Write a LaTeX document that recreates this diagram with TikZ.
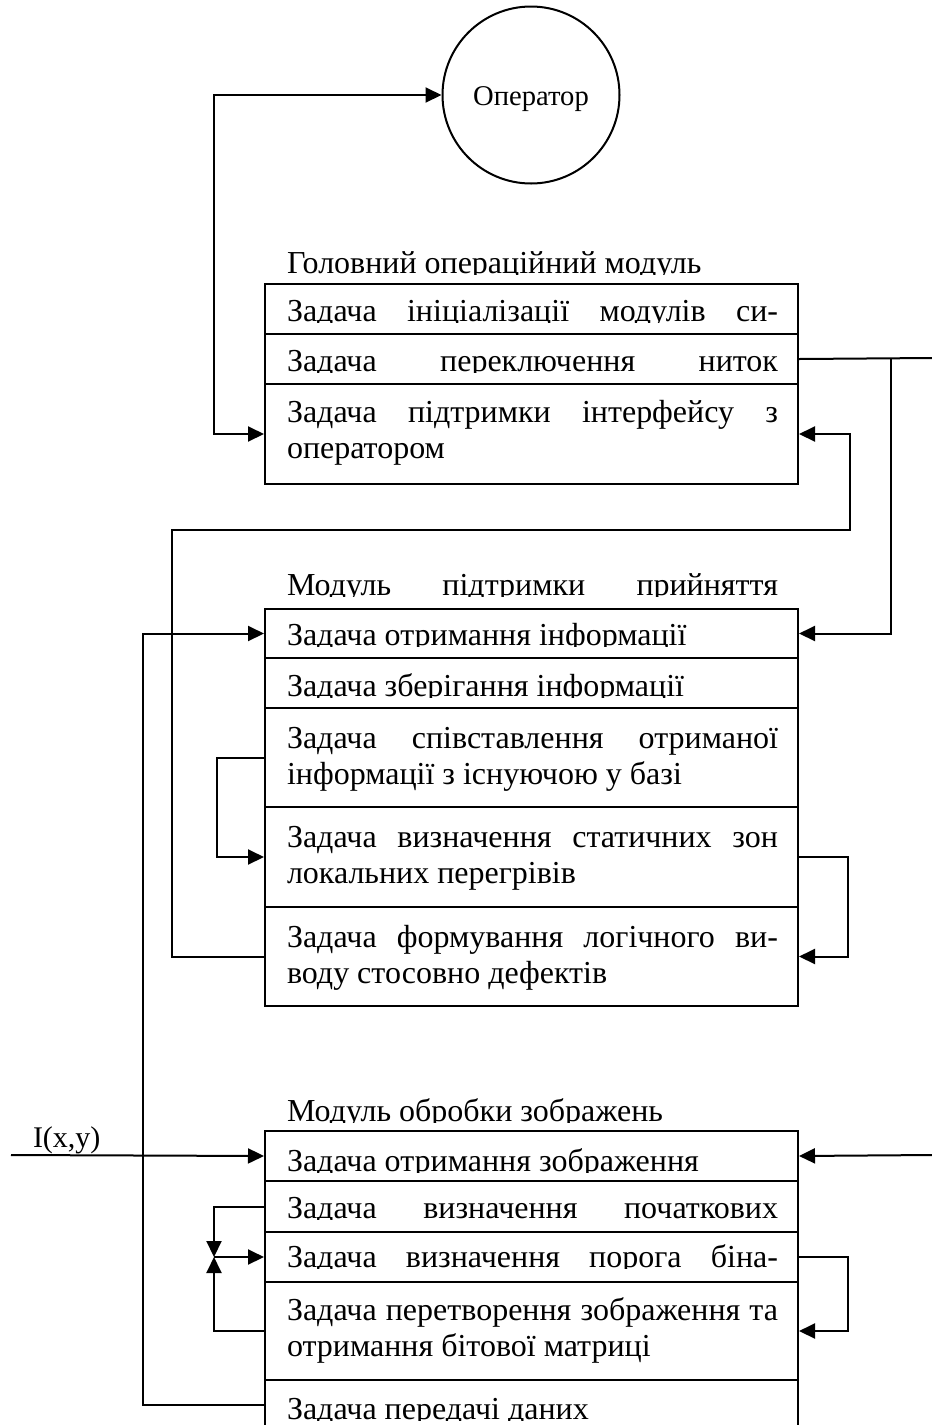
\documentclass[tikz,border=0pt]{standalone}
\usepackage{fontspec}
\setmainfont{Liberation Serif}
\usetikzlibrary{arrows.meta}
\newcommand\cuttext[4]{%
	\begin{scope}
		\clip (#2-25,#3-60) rectangle (#2+540,#3+1.5);
		\node[txt] (#1) at (#2,#3) {#4};
	\end{scope}}

\begin{document}
\begin{tikzpicture}[x=0.5pt,y=-0.5pt,line width=1pt,>={Triangle[length=8pt,width=7.5pt]},
		font=\fontsize{16pt}{18.4pt}\selectfont]
		\tikzstyle{task}=[draw,rectangle,anchor=north west,minimum width=266.5pt,inner sep=0pt]
		\tikzstyle{txt}=[anchor=base west,inner sep=0pt]
		\tikzstyle{para}=[txt,text width=245.5pt,align=justify]
		
		\useasboundingbox (0,0) rectangle (932,1425);
		
		\node[circle,draw,minimum size=88.5pt,inner sep=0pt,text height=10.5pt,text depth=0pt,
			font=\fontsize{14.3pt}{16pt}\selectfont] (op) at (531,95) {Оператор};
		
		\node[task,minimum height=25pt] (g1) at (264,283) {};
		\node[task,minimum height=25pt] (g2) at (264,333) {};
		\node[task,minimum height=50pt] (g3) at (264,383) {};
		
		\node[task,minimum height=24.5pt] (m1) at (264,608) {};
		\node[task,minimum height=25pt] (m2) at (264,657) {};
		\node[task,minimum height=49.5pt] (m3) at (264,707) {};
		\node[task,minimum height=50pt] (m4) at (264,806) {};
		\node[task,minimum height=49.5pt] (m5) at (264,906) {};
		
		\node[task,minimum height=25pt] (o1) at (264,1130) {};
		\node[task,minimum height=25.5pt] (o2) at (264,1180) {};
		\node[task,minimum height=25pt] (o3) at (264,1231) {};
		\node[task,minimum height=49pt] (o4) at (264,1281) {};
		\node[task,minimum height=25pt] (o5) at (264,1379) {};
		
		\cuttext{gt}{286}{273}{Головний операційний модуль}
		\cuttext{g1t}{286}{321}{\hbox to 245.5pt{Задача\hfill ініціалізації\hfill модулів\hfill си-}}
		\cuttext{g2t}{286}{371}{\hbox to 245.5pt{Задача\hfill переключення\hfill ниток}}
		\node[para] (g3t) at (286,422) {\hbox to\linewidth{Задача підтримки інтерфейсу з}\newline оператором};
		
		\cuttext{mt}{286}{595}{\hbox to 245.5pt{Модуль\hfill підтримки\hfill прийняття}}
		\cuttext{m1t}{286}{645}{Задача отримання інформації}
		\cuttext{m2t}{286}{696}{Задача зберігання інформації}
		\node[para] (m3t) at (286,748) {\hbox to\linewidth{Задача співставлення отриманої}\newline інформації з існуючою у базі};
		\node[para] (m4t) at (286,847) {\hbox to\linewidth{Задача визначення статичних зон}\newline локальних перегрівів};
		\node[para] (m5t) at (286,947) {\hbox to\linewidth{Задача формування логічного ви-}\newline воду стосовно дефектів};
		
		\cuttext{ot}{286}{1121}{Модуль обробки зображень}
		\cuttext{o1t}{286}{1171}{Задача отримання зображення}
		\cuttext{o2t}{286}{1218}{\hbox to 245.5pt{Задача\hfill визначення\hfill початкових}}
		\cuttext{o3t}{286}{1267}{\hbox to 245.5pt{Задача\hfill визначення\hfill порога\hfill біна-}}
		\node[para] (o4t) at (286,1320) {\hbox to\linewidth{Задача перетворення зображення та}\newline отримання бітової матриці};
		\cuttext{o5t}{286}{1419}{Задача передачі даних}
		
		\node[txt,font=\fontsize{15pt}{17pt}\selectfont] (xy) at (32,1147) {I(x,y)};
		\coordinate (in) at (11,1155);
		\coordinate (r1) at (932,358);
		\coordinate (r2) at (932,1155);
		\coordinate (jn) at ([xshift=-25pt]o3.west);
		
		\draw[<->] (op.west) -| ([xshift=-25pt]g3.west) -- (g3.west);
		\draw (g2.east) -- (r1);
		\draw[->] ([xshift=46pt]g2.east) |- (m1.east);
		\draw[->] (m5.west) -| (172,530) -| ([xshift=25.5pt]g3.east) -- (g3.east);
		\draw[->] (m3.west) -- ++(-23.5pt,0) |- (m4.west);
		\draw[->] (m4.east) -- ++(24.5pt,0) |- (m5.east);
		\draw[->] (o5.west) -- ++(-60.5pt,0) |- (m1.west);
		\draw[->] (in) -- (o1.west);
		\draw[->] (r2) -- (o1.east);
		\draw[->] (o2.west) -| (jn);
		\draw[->] (o4.west) -| (jn);
		\draw[->] (jn) -- (o3.west);
		\draw[->] (o3.east) -- ++(24.5pt,0) |- (o4.east);
		
\end{tikzpicture}
\end{document}
